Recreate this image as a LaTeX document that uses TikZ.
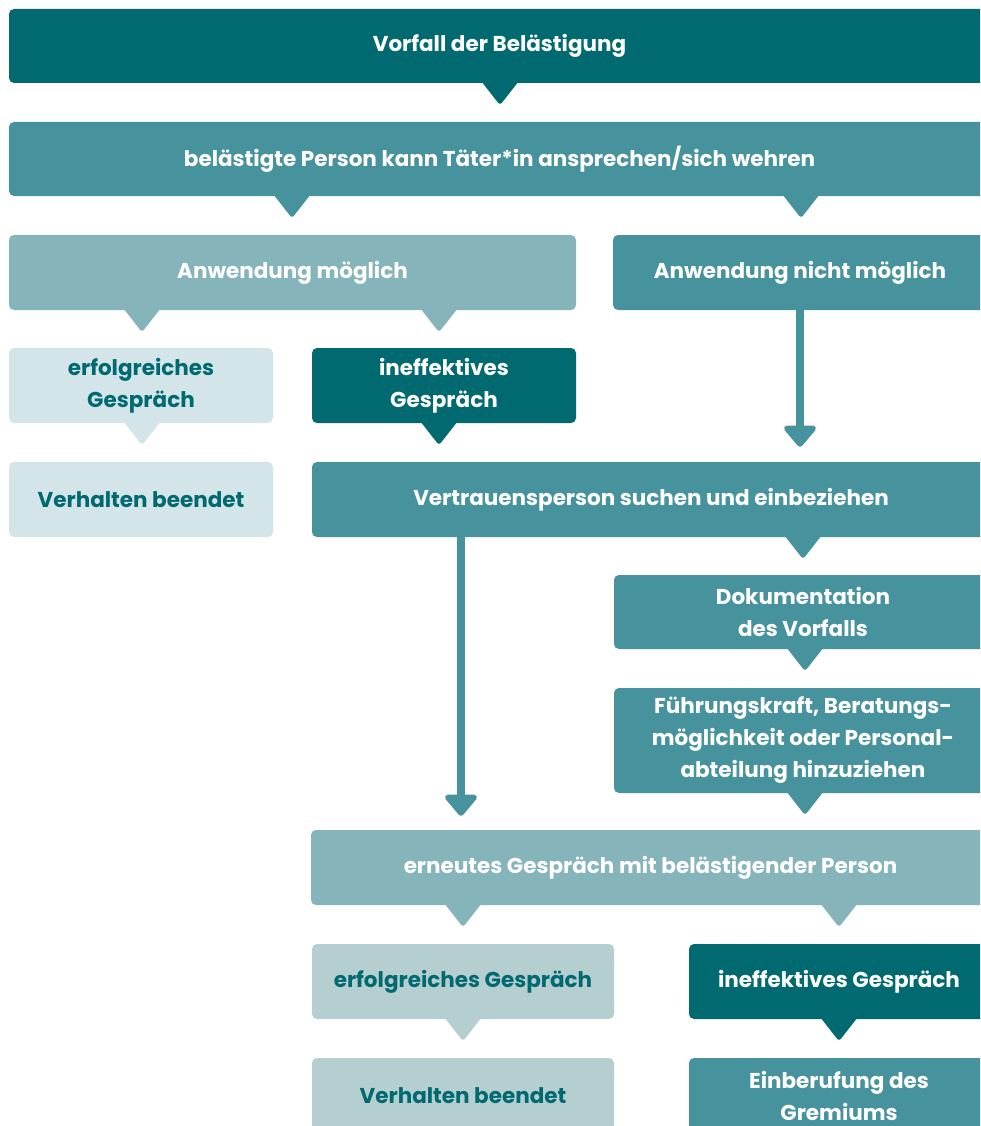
\documentclass[tikz,border=0pt]{standalone}
\usepackage{fontspec}
\setmainfont{Poppins}
\usepackage{xcolor}
\usetikzlibrary{arrows.meta, calc}

\definecolor{tdark}{HTML}{006A70}
\definecolor{tmed}{HTML}{47939D}
\definecolor{tlight}{HTML}{86B4BB}
\definecolor{tpale}{HTML}{D3E5E9}
\definecolor{tgrey}{HTML}{B5CFD1}

% downward pointer under a box: colour, x, box
\newcommand{\pointer}[3]{%
  \coordinate (ptr) at (#2,0 |- #3.south);
  \fill[#1] ([xshift=-18pt,yshift=1pt]ptr) -- ([xshift=18pt,yshift=1pt]ptr)
    [rounded corners=3pt] -- ([yshift=-22pt]ptr) [sharp corners] -- cycle;}

\begin{document}
\begin{tikzpicture}[x=1pt, y=-1pt,
  box/.style={rectangle, rounded corners=5pt, inner sep=0pt, align=center,
    text=white, font=\fontsize{21.5}{32}\selectfont\bfseries},
  pale/.style={box, fill=tpale, text=tdark},
  grey/.style={box, fill=tgrey, text=tdark},
  light/.style={box, fill=tlight},
  med/.style={box, fill=tmed},
  dark/.style={box, fill=tdark},
  flow/.style={tmed, line width=8pt, -{Triangle[width=37pt,length=23pt,round]}}]
\clip (0,0) rectangle (980,1126);

\node[dark, minimum width=981, minimum height=74] (incident) at (499.5,46) {Vorfall der Belästigung};
\node[med, minimum width=981, minimum height=74] (react) at (499.5,159) {belästigte Person kann Täter*in ansprechen/sich wehren};
\node[light, minimum width=567, minimum height=75] (poss) at (292.5,272.5) {Anwendung möglich};
\node[med, minimum width=374, minimum height=75] (imposs) at (800,272.5) {Anwendung nicht möglich};
\node[pale, minimum width=264, minimum height=75] (succA) at (141,385.5) {erfolgreiches\\Gespräch};
\node[dark, minimum width=264, minimum height=75] (failA) at (444,385.5) {ineffektives\\Gespräch};
\node[pale, minimum width=264, minimum height=75] (endA) at (141,499.5) {Verhalten beendet};
\node[med, minimum width=678, minimum height=75] (trust) at (651,499.5) {Vertrauensperson suchen und einbeziehen};
\node[med, minimum width=378, minimum height=74] (docu) at (803,612) {Dokumentation\\des Vorfalls};
\node[med, minimum width=378, minimum height=105] (lead) at (803,740.5) {Führungskraft, Beratungs-\\möglichkeit oder Personal-\\abteilung hinzuziehen};
\node[light, minimum width=679, minimum height=75] (again) at (650.5,867.5) {erneutes Gespräch mit belästigender Person};
\node[grey, minimum width=302, minimum height=75] (succB) at (463,981.5) {erfolgreiches Gespräch};
\node[dark, minimum width=300, minimum height=75] (failB) at (839,981.5) {ineffektives Gespräch};
\node[grey, minimum width=302, minimum height=76] (endB) at (463,1096) {Verhalten beendet};
\node[med, minimum width=300, minimum height=76] (board) at (839,1096) {Einberufung des\\Gremiums};

\pointer{tdark}{500}{incident}
\pointer{tmed}{292}{react}
\pointer{tmed}{801}{react}
\pointer{tlight}{142}{poss}
\pointer{tlight}{439}{poss}
\pointer{tpale}{142}{succA}
\pointer{tdark}{439}{failA}
\pointer{tmed}{803}{trust}
\pointer{tmed}{805}{docu}
\pointer{tmed}{805}{lead}
\pointer{tlight}{463}{again}
\pointer{tlight}{839}{again}
\pointer{tgrey}{463}{succB}
\pointer{tdark}{839}{failB}

\coordinate (down) at (461,0 |- trust.south);
\draw[flow, shorten >=15pt] (imposs.south) -- (imposs.south |- trust.north);
\draw[flow, shorten >=14pt] (down) -- (down |- again.north);
\end{tikzpicture}
\end{document}
